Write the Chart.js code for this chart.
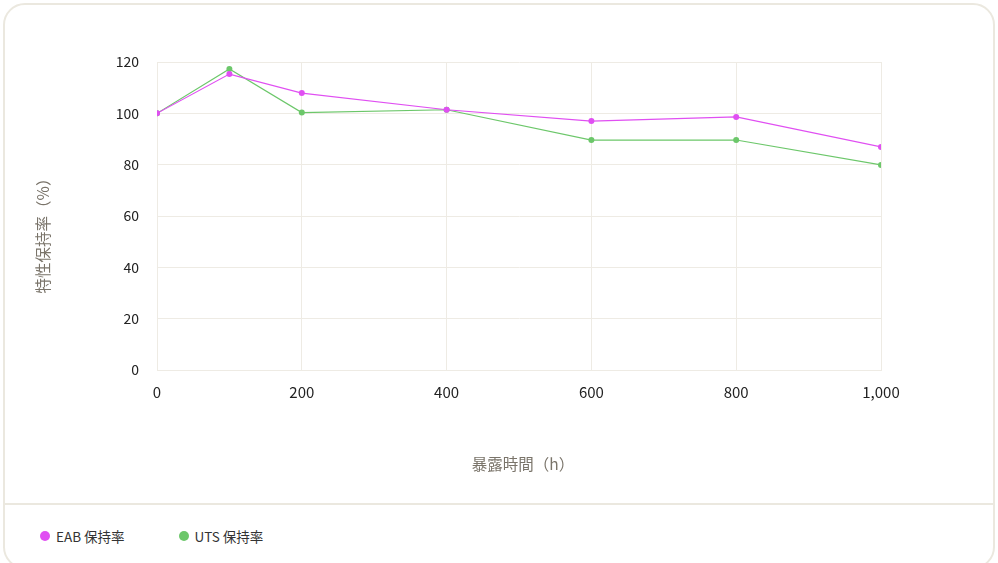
<!DOCTYPE html>
<html>
<head>
<meta charset="utf-8">
<script src="https://cdn.jsdelivr.net/npm/chart.js@4/dist/chart.umd.min.js"></script>
<style>
  html, body { margin: 0; padding: 0; background: #ffffff; }
  body { width: 998px; height: 563px; position: relative; overflow: hidden;
         font-family: "Noto Sans CJK JP", "Noto Sans", sans-serif; }
  .card { position: absolute; left: 3px; top: 3px; width: 988px; height: 562px;
          border: 2px solid #ebe8df; border-radius: 22px; background: #fff; box-sizing: content-box; }
  .sep { position: absolute; left: 5px; top: 503px; width: 988px; height: 2px; background: #ebe8df; }
  .plot { position: absolute; left: 0; top: 0; width: 998px; height: 500px; }
  .legend { position: absolute; left: 40px; top: 526px; height: 20px; display: flex; align-items: center;
            font-size: 13.5px; color: #333; }
  .legend .item { display: flex; align-items: center; margin-right: 54px; }
  .legend .dot { width: 10px; height: 10px; border-radius: 50%; margin-right: 6px; }
</style>
</head>
<body>
<div class="card"></div>
<div class="sep"></div>
<div class="plot"><canvas id="c" width="998" height="500"></canvas></div>
<div class="legend" id="legend"></div>
<script>
// Exposure hours and retention (%) for each property
const hours = [0, 100, 200, 400, 600, 800, 1000];
const eabRetention = [100, 115.3, 107.9, 101.4, 97.0, 98.6, 86.9];
const utsRetention = [100, 117.3, 100.3, 101.4, 89.6, 89.6, 79.9];
const seriesNames = ['EAB 保持率', 'UTS 保持率'];
const xTicks = [0, 200, 400, 600, 800, 1000];
const yTicks = [0, 20, 40, 60, 80, 100, 120];

const xTitle = '暴露時間（h）';
const yTitle = '特性保持率（%）';

const colors = ['#e04ff2', '#6cc76a'];
const gridColor = '#eeebe4';
const titleColor = '#7a746a';
const font = '"Noto Sans CJK JP", "Noto Sans", sans-serif';

const toPoints = vals => hours.map((h, i) => ({ x: h, y: vals[i] }));

const datasets = [eabRetention, utsRetention].map((vals, i) => ({
  label: seriesNames[i],
  data: toPoints(vals),
  borderColor: colors[i],
  backgroundColor: colors[i],
  borderWidth: 1.2,
  pointRadius: 3,
  pointHoverRadius: 4,
  pointBorderWidth: 0,
  tension: 0
}));

// Axis captions drawn around the plot area
const axisCaptions = {
  id: 'axisCaptions',
  afterDraw(chart) {
    const ctx = chart.ctx;
    const area = chart.chartArea;
    ctx.save();
    ctx.fillStyle = titleColor;
    ctx.textAlign = 'center';
    ctx.textBaseline = 'middle';
    ctx.font = '15.5px ' + font;
    ctx.fillText(xTitle, (area.left + area.right) / 2 + 4, area.bottom + 94);
    ctx.translate(43, (area.top + area.bottom) / 2 + 16);
    ctx.rotate(-Math.PI / 2);
    ctx.fillText(yTitle, 0, 0);
    ctx.restore();
  }
};

const chart = new Chart(document.getElementById('c'), {
  type: 'line',
  data: { datasets },
  plugins: [axisCaptions],
  options: {
    responsive: false,
    animation: false,
    layout: { padding: { left: 0, right: 117, top: 62, bottom: 0 } },
    plugins: { legend: { display: false }, tooltip: { enabled: false } },
    scales: {
      x: {
        type: 'linear',
        min: 0, max: 1000,
        afterFit(scale) { scale.height = 130; },
        afterBuildTicks(scale) { scale.ticks = xTicks.map(v => ({ value: v })); },
        grid: { color: gridColor, drawTicks: false, lineWidth: 1 },
        border: { color: gridColor, width: 1 },
        ticks: {
          padding: 13,
          color: '#222',
          font: { family: font, size: 15 },
          callback: v => v.toLocaleString('en-US')
        }
      },
      y: {
        min: 0, max: 120,
        afterFit(scale) { scale.width = 157; },
        afterBuildTicks(scale) { scale.ticks = yTicks.map(v => ({ value: v })); },
        grid: { color: gridColor, drawTicks: false, lineWidth: 1 },
        border: { color: gridColor, width: 1 },
        ticks: {
          padding: 18,
          color: '#222',
          font: { family: font, size: 14 }
        }
      }
    }
  }
});

// Legend built from the chart's datasets
const legend = document.getElementById('legend');
chart.data.datasets.forEach(ds => {
  const item = document.createElement('div');
  item.className = 'item';
  const dot = document.createElement('span');
  dot.className = 'dot';
  dot.style.background = ds.backgroundColor;
  const label = document.createElement('span');
  label.textContent = ds.label;
  item.appendChild(dot);
  item.appendChild(label);
  legend.appendChild(item);
});
</script>
</body>
</html>
